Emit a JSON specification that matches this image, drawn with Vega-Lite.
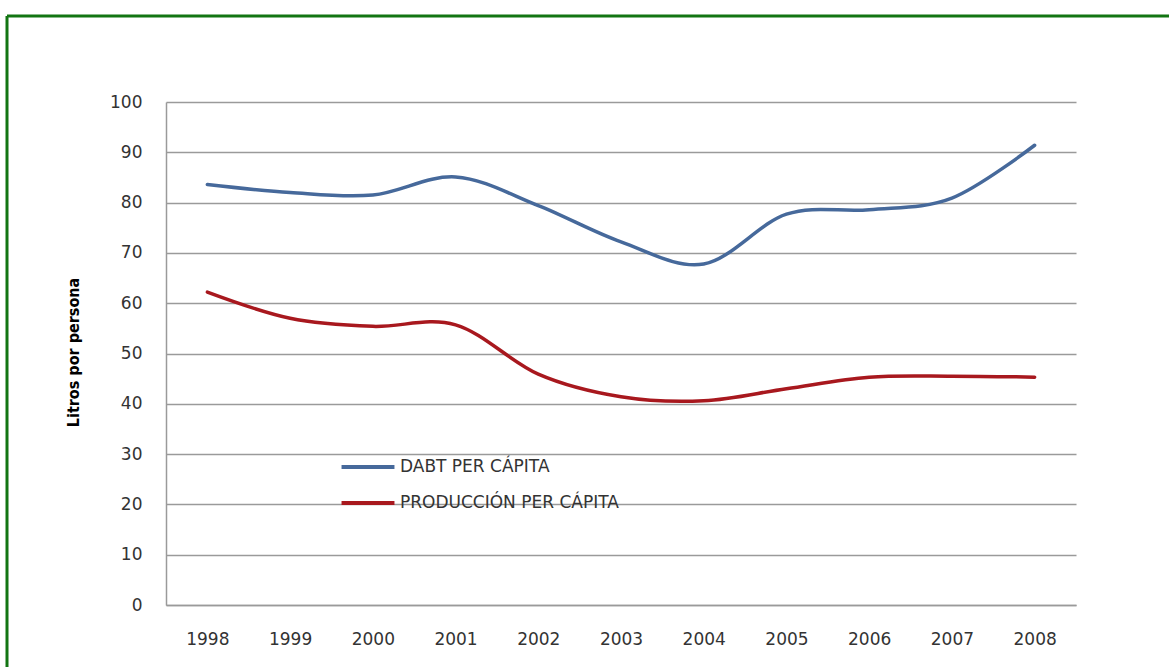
{
  "$schema": "https://vega.github.io/schema/vega-lite/v6.json",
  "width": 1162,
  "height": 651,
  "autosize": {"type": "none"},
  "padding": {"left": 7, "top": 16, "right": 0, "bottom": 0},
  "background": "white",
  "view": {"stroke": "#127512", "strokeWidth": 3, "strokeDash": [1162, 1813, 651, 0]},
  "data": {
    "values": [
      {"year": "1998", "serie": "DABT PER CÁPITA", "value": 83.6},
      {"year": "1999", "serie": "DABT PER CÁPITA", "value": 82.0},
      {"year": "2000", "serie": "DABT PER CÁPITA", "value": 81.5},
      {"year": "2001", "serie": "DABT PER CÁPITA", "value": 85.1},
      {"year": "2002", "serie": "DABT PER CÁPITA", "value": 79.4},
      {"year": "2003", "serie": "DABT PER CÁPITA", "value": 72.2},
      {"year": "2004", "serie": "DABT PER CÁPITA", "value": 67.8},
      {"year": "2005", "serie": "DABT PER CÁPITA", "value": 77.7},
      {"year": "2006", "serie": "DABT PER CÁPITA", "value": 78.6},
      {"year": "2007", "serie": "DABT PER CÁPITA", "value": 80.9},
      {"year": "2008", "serie": "DABT PER CÁPITA", "value": 91.4},
      {"year": "1998", "serie": "PRODUCCIÓN PER CÁPITA", "value": 62.2},
      {"year": "1999", "serie": "PRODUCCIÓN PER CÁPITA", "value": 57.0},
      {"year": "2000", "serie": "PRODUCCIÓN PER CÁPITA", "value": 55.4},
      {"year": "2001", "serie": "PRODUCCIÓN PER CÁPITA", "value": 55.7},
      {"year": "2002", "serie": "PRODUCCIÓN PER CÁPITA", "value": 45.9},
      {"year": "2003", "serie": "PRODUCCIÓN PER CÁPITA", "value": 41.4},
      {"year": "2004", "serie": "PRODUCCIÓN PER CÁPITA", "value": 40.6},
      {"year": "2005", "serie": "PRODUCCIÓN PER CÁPITA", "value": 43.0},
      {"year": "2006", "serie": "PRODUCCIÓN PER CÁPITA", "value": 45.3},
      {"year": "2007", "serie": "PRODUCCIÓN PER CÁPITA", "value": 45.5},
      {"year": "2008", "serie": "PRODUCCIÓN PER CÁPITA", "value": 45.3}
    ]
  },
  "mark": {"type": "line", "interpolate": "cardinal", "strokeWidth": 3.5, "strokeCap": "round"},
  "encoding": {
    "x": {
      "field": "year",
      "type": "ordinal",
      "scale": {"type": "point", "range": [159, 1069], "padding": 0.5},
      "axis": {
        "title": null,
        "offset": -62,
        "grid": false,
        "ticks": false,
        "domain": true,
        "domainColor": "#9a9a9a",
        "domainWidth": 1.5,
        "labelAngle": 0,
        "labelFont": "DejaVu Sans",
        "labelFontSize": 17,
        "labelColor": "#333333",
        "labelPadding": 26
      }
    },
    "y": {
      "field": "value",
      "type": "quantitative",
      "scale": {"domain": [0, 100], "range": [589, 86], "nice": false},
      "axis": {
        "title": "Litros por persona",
        "offset": -159,
        "values": [0, 10, 20, 30, 40, 50, 60, 70, 80, 90, 100],
        "grid": true,
        "gridColor": "#9a9a9a",
        "gridWidth": 1.5,
        "ticks": false,
        "domain": true,
        "domainColor": "#9a9a9a",
        "domainWidth": 1.5,
        "labelFont": "DejaVu Sans",
        "labelFontSize": 17,
        "labelColor": "#333333",
        "labelPadding": 24,
        "titleFont": "DejaVu Sans Condensed",
        "titleFontSize": 16,
        "titleFontWeight": "bold",
        "titleColor": "#000000",
        "titleX": -93,
        "titleY": 336,
        "titleBaseline": "middle",
        "titleAngle": -90
      }
    },
    "color": {
      "field": "serie",
      "type": "nominal",
      "scale": {"domain": ["DABT PER CÁPITA", "PRODUCCIÓN PER CÁPITA"], "range": ["#46699b", "#a8181e"]},
      "legend": {
        "title": null,
        "orient": "none",
        "legendX": 352,
        "legendY": 442,
        "symbolType": "M-4,0H4",
        "symbolSize": 175,
        "symbolStrokeWidth": 4,
        "labelFont": "DejaVu Sans",
        "labelFontSize": 17,
        "labelColor": "#333333",
        "labelOffset": 23,
        "labelLimit": 500,
        "rowPadding": 19,
        "padding": 0
      }
    }
  }
}
